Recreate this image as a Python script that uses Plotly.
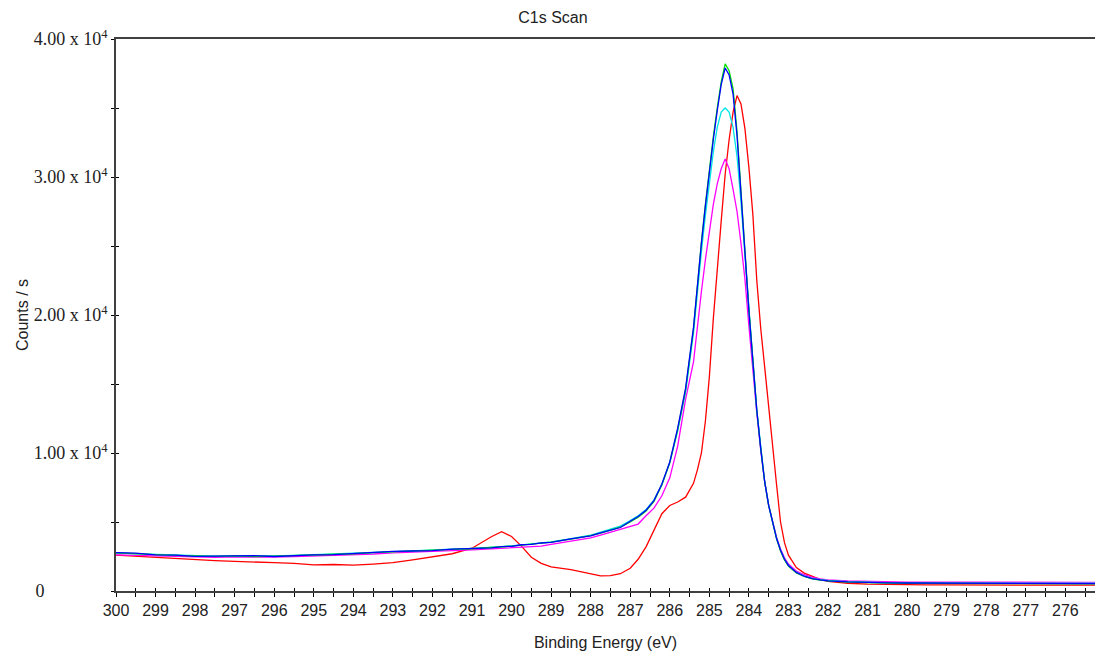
import plotly.graph_objects as go

# Binding energy grid (eV)
energy = [300, 299.5, 299, 298.5, 298, 297.5, 297, 296.5, 296, 295.5, 295, 294.5, 294, 293.5, 293, 292.5, 292, 291.5, 291,
          290.75, 290.5, 290.25, 290, 289.75, 289.5, 289.25, 289,
          288.5, 288,
          287.75, 287.5, 287.25, 287,
          286.8, 286.6, 286.4, 286.2, 286.0, 285.8, 285.6, 285.4,
          285.3, 285.2, 285.1, 285.0, 284.9, 284.8, 284.7, 284.6, 284.5, 284.4, 284.3, 284.2, 284.1, 284.0,
          283.9, 283.8, 283.7, 283.6, 283.5, 283.4, 283.3, 283.2, 283.1, 283.0,
          282.8, 282.6, 282.4, 282.2, 282.0,
          281.5, 281, 280.5, 280, 279.5, 279, 278.5, 278, 277.5, 277, 276.5, 276, 275.5, 275.25]

red = [2600, 2520, 2440, 2330, 2250, 2200, 2150, 2120, 2050, 2000, 1900, 1920, 1880, 1950, 2050, 2250, 2480, 2700, 3100,
       3550, 3950, 4300, 3950, 3250, 2450, 2000, 1750,
       1550, 1250,
       1100, 1120, 1250, 1650,
       2300, 3200, 4400, 5600, 6200, 6450, 6800, 7800,
       8800, 10000, 12300, 15500, 19700, 23500, 26800, 30200, 32700, 34700, 35900, 35300, 33500, 30700,
       27300, 22500, 19000, 16200, 13200, 10400, 7700, 5000, 3500, 2600,
       1700, 1300, 1050, 850, 700,
       560, 500, 470, 450, 450, 440, 440, 430, 430, 430, 420, 420, 420, 420]

magenta = [2620, 2580, 2520, 2480, 2450, 2430, 2470, 2440, 2460, 2500, 2540, 2580, 2620, 2680, 2760, 2800, 2850, 2920, 2980,
           3020, 3060, 3100, 3120, 3160, 3200, 3250, 3380,
           3600, 3850,
           4050, 4250, 4450, 4650,
           4850, 5450, 6000, 6900, 8200, 10500, 13900, 16600,
           19400, 21700, 24000, 26200, 28000, 29500, 30600, 31300, 30600, 29100, 27500, 25200, 22600, 19200,
           16000, 12900, 10200, 7900, 6200, 4950, 3900, 3050, 2400, 1950,
           1450, 1180, 1000, 880, 810,
           730, 690, 670, 650, 650, 640, 640, 630, 630, 620, 630, 620, 620, 620]

cyan = [2740, 2700, 2660, 2600, 2550, 2520, 2550, 2530, 2540, 2580, 2620, 2670, 2740, 2790, 2860, 2900, 2960, 3030, 3090,
        3120, 3160, 3210, 3270, 3330, 3410, 3470, 3560,
        3800, 4050,
        4260, 4480, 4700, 5100,
        5450, 5900, 6600, 7700, 9300, 11600, 14400, 18700,
        21800, 24600, 27200, 29600, 31800, 33600, 34700, 35000, 34700, 33600, 31500, 28200, 24200, 20300,
        16700, 13100, 10300, 7900, 6200, 4900, 3800, 2950, 2300, 1850,
        1350, 1080, 920, 820, 760,
        680, 630, 600, 590, 580, 580, 570, 580, 570, 560, 570, 560, 560, 560]

green = [2760, 2720, 2640, 2580, 2530, 2510, 2540, 2500, 2520, 2560, 2600, 2660, 2700, 2780, 2850, 2880, 2940, 3010, 3060,
         3100, 3150, 3190, 3250, 3320, 3390, 3460, 3540,
         3760, 4010,
         4200, 4400, 4620, 5000,
         5350, 5800, 6500, 7700, 9300, 11700, 14600, 19000,
         22400, 25300, 28000, 30700, 32900, 35000, 36900, 38200, 37700, 36400, 33300, 29000, 24600, 20400,
         16800, 13100, 10300, 7900, 6200, 4900, 3800, 2900, 2250, 1800,
         1300, 1050, 880, 790, 730,
         650, 600, 580, 560, 560, 550, 540, 550, 530, 520, 530, 520, 510, 520]

blue = [2780, 2750, 2620, 2600, 2510, 2540, 2520, 2560, 2500, 2580, 2620, 2640, 2720, 2760, 2870, 2900, 2920, 3040, 3080,
        3120, 3130, 3220, 3240, 3350, 3380, 3480, 3520,
        3780, 3990,
        4220, 4420, 4600, 5050,
        5400, 5850, 6550, 7750, 9350, 11800, 14700, 19100,
        22400, 25200, 27900, 30500, 32700, 34800, 36700, 37900, 37400, 36000, 33000, 28800, 24400, 20300,
        16700, 13100, 10300, 7900, 6200, 4900, 3800, 2950, 2300, 1850,
        1350, 1070, 900, 800, 740,
        660, 610, 590, 580, 570, 570, 560, 560, 550, 550, 550, 540, 540, 540]

x_ticks = list(range(276, 301))
y_ticks = [0, 10000, 20000, 30000, 40000]
y_tick_text = ["0" + "\u00a0" * 14, "1.00 x 10<sup>4</sup>", "2.00 x 10<sup>4</sup>",
               "3.00 x 10<sup>4</sup>", "4.00 x 10<sup>4</sup>"]
x_range = [300, 275.25]
y_range = [0, 40000]

series = [("red", red, "#FF0000"), ("magenta", magenta, "#FF00FF"), ("cyan", cyan, "#00E5E5"),
          ("green", green, "#00E000"), ("blue", blue, "#0000FF")]

fig = go.Figure()
for name, vals, col in series:
    kw = {}
    if name == "blue":
        kw = dict(xaxis="x2", yaxis="y2")
    fig.add_trace(go.Scatter(x=energy, y=vals, mode="lines", name=name,
                             line=dict(color=col, width=1.3), showlegend=False, **kw))

axis_col = "#404040"
fig.update_layout(
    width=1095, height=655,
    margin=dict(l=116, r=0, t=39, b=64),
    paper_bgcolor="white", plot_bgcolor="white",
    title=dict(text="C1s Scan", font=dict(family="Liberation Sans", size=16, color="#222"),
               xref="container", x=0.505, xanchor="center", yref="container", y=0.974, yanchor="middle"),
    xaxis=dict(range=x_range, tickmode="array", tickvals=x_ticks, ticktext=[str(v) for v in x_ticks],
               ticks="outside", ticklen=4, tickwidth=1, tickcolor="black",
               minor=dict(ticks="outside", ticklen=4, tickcolor="black", dtick=0.5, tick0=0),
               showline=True, linecolor=axis_col, linewidth=1.6, mirror=True,
               showgrid=False, zeroline=False,
               tickfont=dict(family="Liberation Sans", size=16, color="#222"),
               title=dict(text="Binding Energy (eV)", font=dict(family="Liberation Sans", size=16, color="#222"),
                          standoff=19)),
    yaxis=dict(range=y_range, tickmode="array", tickvals=y_ticks, ticktext=y_tick_text,
               ticks="outside", ticklen=3, tickwidth=1, tickcolor="black",
               minor=dict(ticks="outside", ticklen=3, tickcolor="black", dtick=5000, tick0=0),
               showline=True, linecolor=axis_col, linewidth=1.6,
               showgrid=False, zeroline=False,
               tickfont=dict(family="Liberation Serif", size=18, color="#222"),
               title=dict(text="Counts / s", font=dict(family="Liberation Sans", size=16, color="#222"),
                          standoff=1)),
    xaxis2=dict(range=x_range, overlaying="x", anchor="y2", side="bottom",
                tickmode="array", tickvals=x_ticks, ticks="inside", ticklen=3, tickcolor="black",
                minor=dict(ticks="inside", ticklen=3, tickcolor="black", dtick=0.5, tick0=0),
                showticklabels=False, showline=False, showgrid=False, zeroline=False),
    yaxis2=dict(range=y_range, overlaying="y", anchor="x2", side="left",
                tickmode="array", tickvals=y_ticks, ticks="inside", ticklen=3, tickcolor="black",
                minor=dict(ticks="inside", ticklen=3, tickcolor="black", dtick=5000, tick0=0),
                showticklabels=False, showline=False, showgrid=False, zeroline=False),
)

fig.write_html("out.html")
